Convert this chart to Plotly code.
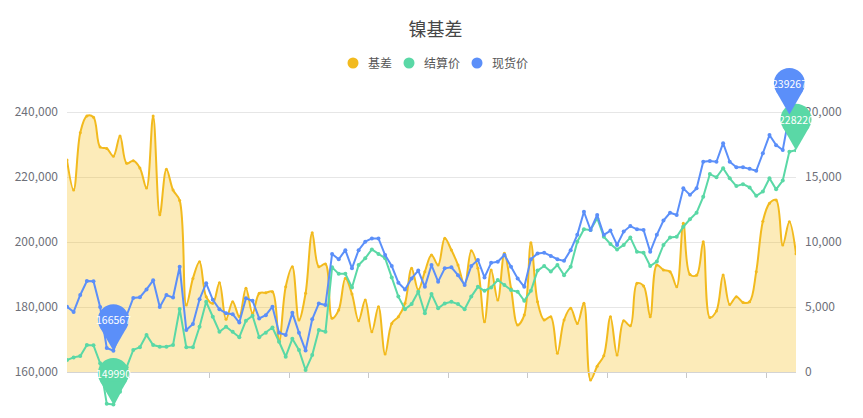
import plotly.graph_objects as go

# 现货价 / 结算价 (left axis, yuan/t) and 基差 (right axis)
spot = [180100, 178500, 183700, 188000, 187900, 180000, 167400, 166567, 172000, 177500,
        182800, 183000, 185400, 188200, 180000, 183700, 182900, 192400, 172900, 174800,
        182400, 187300, 182200, 179300, 178100, 177800, 175200, 182700, 181900, 176500,
        177500, 180100, 172100, 171400, 178200, 172100, 166600, 176200, 181100, 180600,
        196300, 194700, 197500, 191900, 197500, 200100, 201100, 201100, 196000, 192600,
        187500, 185400, 188800, 191200, 186200, 192900, 187800, 191900, 192200, 189800,
        186800, 192600, 194500, 189100, 193600, 193900, 196000, 192400, 188800, 186200,
        194700, 196500, 196700, 195700, 194700, 194200, 197500, 202200, 209300, 203700,
        208300, 202200, 203500, 199100, 203200, 204900, 203900, 203700, 197000, 202200,
        206600, 209000, 208300, 216500, 214500, 216500, 224700, 224900, 224700, 230400,
        224700, 223000, 223000, 222500, 221900, 227300, 232900, 229800, 228300, 239267,
        237300]

settle = [163700, 164500, 164900, 168300, 168200, 162700, 150200, 149990, 153900, 161500,
          166800, 167600, 171400, 168300, 167800, 167800, 168300, 179400, 167600, 167600,
          173900, 181600, 177000, 172400, 173900, 172400, 170700, 175800, 177300, 170700,
          172100, 173700, 169300, 164700, 170200, 166800, 160600, 165200, 172900, 172400,
          192200, 190200, 190200, 186000, 192900, 195000, 197700, 196300, 195000, 189100,
          183200, 179300, 180900, 184700, 178100, 184000, 179600, 181100, 181600, 180900,
          179300, 183200, 186200, 185000, 186000, 188300, 186800, 185200, 184700, 181900,
          185000, 191200, 192600, 190900, 192900, 189800, 192400, 200100, 203900, 203700,
          207300, 201600, 199400, 197700, 199100, 201400, 197000, 196700, 192600, 194000,
          199100, 201400, 201600, 204700, 207000, 209000, 213900, 220900, 219900, 222700,
          219600, 217200, 217800, 216800, 214200, 215500, 219600, 216200, 218900, 227800,
          228220]

basis = [16300, 14000, 18400, 19700, 19600, 17300, 17200, 16600, 18150, 16050,
         16250, 15700, 14150, 19700, 12100, 15600, 14000, 13200, 5150, 7200,
         8480, 5790, 5280, 6870, 4050, 5410, 4260, 6440, 4510, 6050,
         6100, 6180, 2330, 6560, 8100, 4000, 6050, 10720, 8100, 8310,
         4130, 4770, 7210, 6000, 3950, 5540, 3100, 5020, 1380, 3740,
         4250, 5280, 7980, 6310, 7720, 9000, 8230, 10280, 9380, 8230,
         6690, 9330, 7980, 3870, 7850, 5540, 9130, 6440, 3620, 4380,
         9950, 5410, 4000, 4250, 1440, 4000, 4900, 3740, 5280, -620,
         450, 1250, 4250, 1310, 3940, 3550, 6820, 6620, 4250, 8230,
         7850, 7720, 6560, 11440, 7500, 7440, 10020, 4200, 4700, 7460,
         5200, 5790, 5350, 5410, 7720, 11600, 12980, 13230, 9770, 11560,
         9100]

days = list(range(len(spot)))

YELLOW = '#F2BA1E'
GREEN = '#5AD8A6'
BLUE = '#5B8FF9'
FONT = 'Noto Sans CJK SC'

# the page body has an 8px margin, so the figure is drawn 8px smaller and
# every pixel position below is given in figure coordinates (page - 8)
PAGE_W, PAGE_H, BODY = 863, 418, 8
W, H = PAGE_W - BODY, PAGE_H - BODY

# grid spans 112..372 px on the page, plot area is stretched to 55..410 so
# the pins and the dips below the axis are not cut off
grid_top, grid_bot = 112 - BODY, 372 - BODY
plot_top, plot_bot = 55 - BODY, 410 - BODY
plot_left, plot_right = 67 - BODY, 796 - BODY


def stretch(lo, hi):
    per_px = (hi - lo) / (grid_bot - grid_top)
    return [lo - (plot_bot - grid_bot) * per_px, hi + (grid_top - plot_top) * per_px]


def paper_x(px):
    return (px - BODY - plot_left) / (plot_right - plot_left)


def paper_y(py):
    return (plot_bot - (py - BODY)) / (plot_bot - plot_top)


price_range = stretch(160000, 240000)
basis_range = stretch(0, 20000)
x_range = [days[0], days[-1]]

fig = go.Figure()

fig.add_trace(go.Scatter(x=days, y=basis, name='基差', yaxis='y', mode='lines+markers',
                         line=dict(color=YELLOW, width=2, shape='spline', smoothing=1),
                         marker=dict(size=3, color=YELLOW),
                         fill='tozeroy', fillcolor='rgba(246,189,22,0.3)', showlegend=False))
fig.add_trace(go.Scatter(x=days, y=settle, name='结算价', yaxis='y2', mode='lines+markers',
                         line=dict(color=GREEN, width=2), marker=dict(size=4, color=GREEN),
                         showlegend=False))
fig.add_trace(go.Scatter(x=days, y=spot, name='现货价', yaxis='y2', mode='lines+markers',
                         line=dict(color=BLUE, width=2), marker=dict(size=4, color=BLUE),
                         showlegend=False))

# legend drawn by hand: round icon + label, icon centres in page px
legend_items = [('基差', YELLOW, 353), ('结算价', GREEN, 409), ('现货价', BLUE, 477)]
for name, c, cx in legend_items:
    fig.add_shape(type='circle', xref='paper', yref='paper', xsizemode='pixel',
                  ysizemode='pixel', xanchor=paper_x(cx), yanchor=paper_y(63),
                  x0=-5.5, x1=5.5, y0=-5.5, y1=5.5, fillcolor=c, line_width=0)
    fig.add_annotation(xref='paper', yref='paper', x=paper_x(cx + 13), y=paper_y(63),
                       xanchor='left', yanchor='middle', text=name, showarrow=False,
                       font=dict(size=12, color='#555555', family=FONT))


def add_pin(series, idx, color):
    val = series[idx]
    common = dict(xref='paper', yref='paper', xsizemode='pixel', ysizemode='pixel',
                  xanchor=(days[idx] - x_range[0]) / (x_range[1] - x_range[0]),
                  yanchor=(val - price_range[0]) / (price_range[1] - price_range[0]),
                  fillcolor=color, line_width=0, layer='above')
    fig.add_shape(type='circle', x0=-15.5, x1=15.5, y0=15.5, y1=46.5, **common)
    fig.add_shape(type='path', path='M -13.4,23.2 L 0,0 L 13.4,23.2 Z', **common)
    fig.add_annotation(x=days[idx], y=val, xref='x', yref='y2', yshift=31, text=str(val),
                       showarrow=False, font=dict(color='white', size=10.5, family=FONT))


for series, c in [(settle, GREEN), (spot, BLUE)]:
    add_pin(series, series.index(max(series)), c)
    add_pin(series, series.index(min(series)), c)

fig.update_layout(
    width=W, height=H, showlegend=False,
    margin=dict(l=plot_left, r=W - plot_right, t=plot_top, b=H - plot_bot),
    paper_bgcolor='white', plot_bgcolor='white',
    font=dict(family=FONT, color='#6e7079', size=12),
    title=dict(text='镍基差', x=0.5, xanchor='center', yref='container',
               y=1 - (30 - BODY) / H, yanchor='middle',
               font=dict(size=18, color='#464646', family=FONT)),
    xaxis=dict(range=x_range, anchor='free',
               position=(160000 - price_range[0]) / (price_range[1] - price_range[0]),
               showline=True, linecolor='#d4d4d4', linewidth=1,
               ticks='outside', ticklen=5, tickcolor='#c8c8c8',
               tick0=21.5, dtick=12, showticklabels=False,
               showgrid=False, zeroline=False),
    yaxis=dict(range=basis_range, side='right', tick0=0, dtick=5000, tickformat=',d',
               showgrid=False, zeroline=False, showline=False, ticks='',
               ticklabelstandoff=8),
    yaxis2=dict(range=price_range, side='left', overlaying='y', tick0=0, dtick=20000,
                tickformat=',d', showgrid=True, gridcolor='#e6e6e6', zeroline=False,
                showline=False, ticks='', ticklabelstandoff=8),
)

fig.write_html("out.html")
